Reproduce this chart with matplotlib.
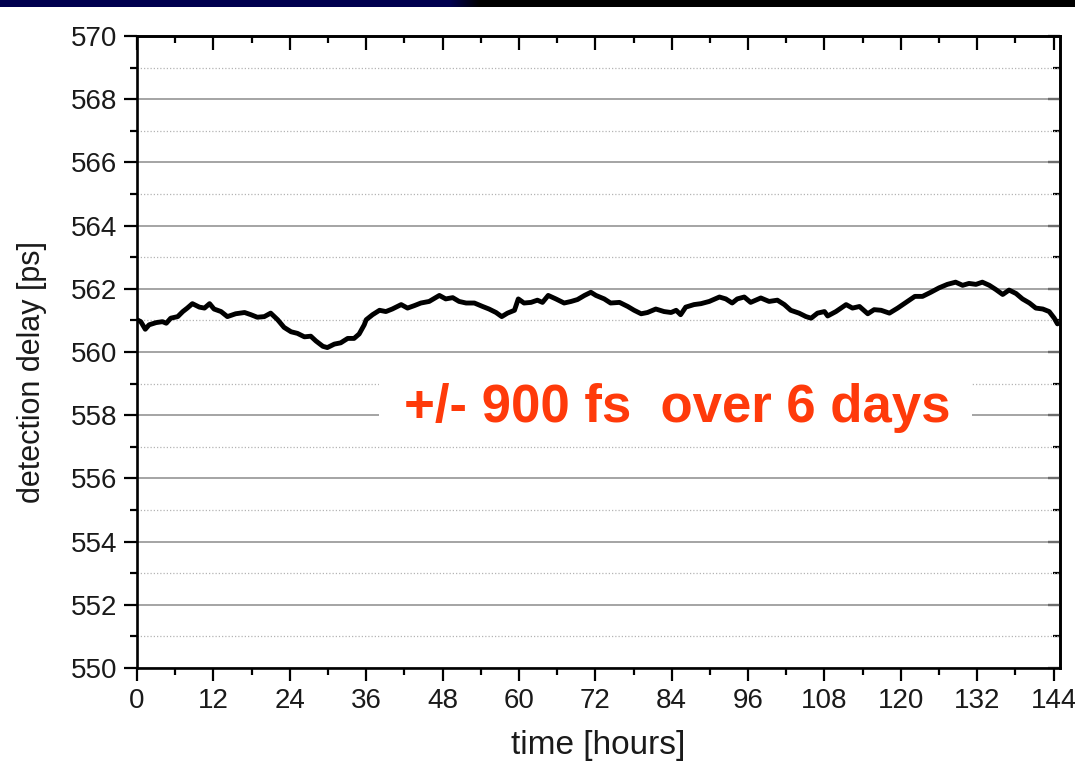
import numpy as np
import matplotlib
matplotlib.use("Agg")
import matplotlib.pyplot as plt
from matplotlib.ticker import MultipleLocator
from matplotlib.patches import Rectangle
from matplotlib.colors import LinearSegmentedColormap

plt.rcParams['font.family'] = ['Liberation Sans', 'DejaVu Sans']

# Long-term drift record: elapsed time [h] and detection delay [ps]
time_h = [
    0.0, 0.6, 1.3, 1.9, 3.0, 4.0, 4.6, 5.3, 6.4, 7.2, 7.9, 8.7, 9.8, 10.6, 11.4,
    12.1, 13.2, 14.2, 15.5, 16.9, 17.9, 18.9, 20.0, 21.0, 22.1, 23.1, 24.2, 25.2,
    26.3, 27.3, 28.1, 29.2, 29.9, 31.0, 32.0, 33.1, 34.1, 34.9, 35.7, 36.0, 37.0,
    38.1, 39.1, 40.1, 41.5, 42.5, 43.6, 44.6, 45.9, 47.5, 48.5, 49.6, 50.6, 51.7,
    53.0, 54.3, 55.3, 56.4, 57.3, 58.2, 59.3, 59.9, 60.8, 61.9, 62.9, 63.7, 64.6,
    65.8, 67.1, 68.2, 69.2, 70.3, 71.3, 72.1, 73.4, 74.4, 75.8, 77.1, 78.1, 79.2,
    80.2, 81.5, 82.8, 83.9, 84.7, 85.4, 86.2, 87.5, 88.6, 89.9, 91.5, 92.5, 93.5,
    94.3, 95.4, 96.4, 98.0, 99.3, 100.6, 101.7, 102.7, 104.0, 105.1, 105.9, 106.9,
    108.0, 108.5, 109.8, 111.4, 112.4, 113.5, 114.8, 115.8, 116.9, 118.2, 119.5,
    120.8, 122.2, 123.4, 124.7, 126.0, 127.3, 128.6, 129.7, 130.7, 131.8, 132.8,
    133.9, 134.9, 136.0, 137.0, 138.1, 139.1, 140.2, 141.2, 142.3, 143.3, 144.1,
    144.6,
]
delay_ps = [
    561.02, 560.96, 560.72, 560.86, 560.93, 560.96, 560.91, 561.07, 561.12, 561.28,
    561.39, 561.53, 561.42, 561.39, 561.53, 561.36, 561.28, 561.12, 561.21, 561.25,
    561.18, 561.10, 561.12, 561.23, 561.02, 560.78, 560.64, 560.59, 560.48, 560.50,
    560.35, 560.18, 560.14, 560.25, 560.29, 560.43, 560.43, 560.57, 560.86, 561.02,
    561.18, 561.32, 561.28, 561.36, 561.50, 561.39, 561.47, 561.55, 561.60, 561.79,
    561.68, 561.72, 561.60, 561.55, 561.55, 561.44, 561.36, 561.25, 561.12, 561.23,
    561.32, 561.68, 561.55, 561.57, 561.64, 561.57, 561.79, 561.68, 561.55, 561.60,
    561.66, 561.79, 561.89, 561.79, 561.68, 561.55, 561.57, 561.44, 561.32, 561.21,
    561.25, 561.36, 561.28, 561.25, 561.32, 561.18, 561.42, 561.50, 561.53, 561.60,
    561.74, 561.68, 561.55, 561.68, 561.74, 561.57, 561.71, 561.60, 561.64, 561.50,
    561.32, 561.23, 561.12, 561.07, 561.23, 561.28, 561.14, 561.28, 561.50, 561.39,
    561.44, 561.21, 561.34, 561.32, 561.23, 561.39, 561.57, 561.76, 561.76, 561.89,
    562.03, 562.14, 562.21, 562.11, 562.17, 562.14, 562.21, 562.11, 561.98, 561.82,
    561.96, 561.85, 561.68, 561.55, 561.39, 561.36, 561.28, 561.07, 560.89,
]

x_ticks = list(range(0, 145, 12))
y_ticks = list(range(550, 571, 2))
annotation = "+/- 900 fs  over 6 days"

W, H = 1075, 768
fig = plt.figure(figsize=(W / 100, H / 100), dpi=100)
fig.patch.set_facecolor('white')

# Title-bar strip along the top edge (navy fading into black)
bar = fig.add_axes([0, 1 - 7 / H, 1, 7 / H])
bar.set_xlim(0, W)
bar.set_ylim(0, 1)
bar.axis('off')
navy = '#00004f'
bar.add_patch(Rectangle((0, 0), 450, 1, color=navy, lw=0))
bar.add_patch(Rectangle((480, 0), W - 480, 1, color='black', lw=0))
fade = LinearSegmentedColormap.from_list('fade', [navy, 'black'])
bar.imshow(np.linspace(0, 1, 64)[None, :], cmap=fade, aspect='auto',
           extent=[450, 480, 0, 1])

ax = fig.add_axes([137 / W, 1 - 668 / H, (1060 - 137) / W, (668 - 36) / H])
ax.set_xlim(0, 145)
ax.set_ylim(550, 570)
ax.set_axisbelow(True)

ax.plot(time_h, delay_ps, color='black', lw=3.5, solid_joinstyle='round',
        solid_capstyle='round', zorder=4)

ax.xaxis.set_minor_locator(MultipleLocator(6))
ax.yaxis.set_minor_locator(MultipleLocator(1))
ax.set_xticks(x_ticks)
ax.set_yticks(y_ticks)

ax.grid(axis='y', which='major', color='#8c8c8c', lw=1.1, ls='-')
ax.grid(axis='y', which='minor', color='#b4b4b4', lw=0.9, ls=(0, (1, 1.6)))

ax.tick_params(which='both', direction='out', top=False, right=False,
               width=1.6, color='black', labelsize=20, labelcolor='#1a1a1a')
ax.tick_params(which='major', length=9.5)
ax.tick_params(which='minor', length=5)
ax.tick_params(axis='x', pad=5)
ax.tick_params(axis='y', pad=5)

for s in ax.spines.values():
    s.set_linewidth(1.9)

# Inward ticks on the top and right frame edges
top = ax.secondary_xaxis('top')
top.xaxis.set_major_locator(MultipleLocator(12))
top.xaxis.set_minor_locator(MultipleLocator(6))
top.tick_params(which='both', direction='in', labeltop=False, width=1.6)
top.tick_params(which='major', length=10)
top.tick_params(which='minor', length=5)
top.spines['top'].set_linewidth(1.9)

right = ax.secondary_yaxis('right')
right.yaxis.set_major_locator(MultipleLocator(2))
right.yaxis.set_minor_locator(MultipleLocator(1))
right.tick_params(which='both', direction='in', labelright=False, width=1.6)
right.tick_params(which='major', length=9)
right.tick_params(which='minor', length=5)
right.spines['right'].set_linewidth(1.9)

ax.set_xlabel('time [hours]', fontsize=24, color='#1a1a1a')
ax.set_ylabel('detection delay [ps]', fontsize=22, color='#1a1a1a')
ax.xaxis.set_label_coords(0.5, -0.098)
ax.yaxis.set_label_coords(-0.098, 0.468)

# Highlighted stability statement on a white patch over the grid
ax.add_patch(Rectangle((38.0, 557.3), 93.2, 1.95, facecolor='white',
                       edgecolor='none', zorder=2))
ax.text(84.8, 557.8, annotation, ha='center', va='baseline', fontsize=38,
        fontweight='bold', color='#ff3a0a', zorder=5)

fig.savefig('out.png', dpi=100, facecolor='white')
